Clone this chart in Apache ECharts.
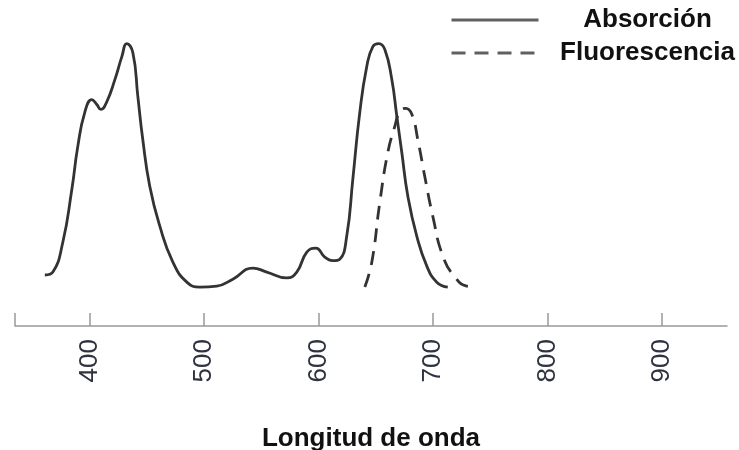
<!DOCTYPE html>
<html>
<head>
<meta charset="utf-8">
<script src="https://cdn.jsdelivr.net/npm/echarts@6/dist/echarts.min.js"></script>
<style>html,body{margin:0;padding:0;background:#fff;}#c{width:739px;height:450px;}</style>
</head>
<body>
<div id="c"></div>
<script>
// Wavelength (nm) and relative intensity
const absWl  = [360.7,367.7,376.4,384.3,389.5,395.6,401.7,406.1,409.6,414.9,421.9,428.0,432.3,437.6,442.0,446.3,452.4,461.2,472.6,484.8,496.2,511.0,525.0,542.5,554.7,572.2,580.9,589.7,597.5,605.4,612.4,618.5,624.6,629.9,636.0,642.1,647.4,652.6,657.9,664.0,668.4,672.7,678.0,685.8,694.6,703.3,712.9];
const absVal = [5.7,6.9,19.0,40.5,57.9,71.7,76.9,74.9,72.9,76.1,85.0,94.3,99.6,96.0,78.1,60.7,41.7,25.5,10.9,2.8,0.8,1.2,4.0,8.5,6.9,4.5,6.9,15.0,16.6,13.0,11.5,12.1,21.5,44.5,71.7,90.3,98.4,99.6,97.2,85.0,70.0,55.5,37.7,21.5,9.3,2.8,0.8];
const fluWl  = [640.4,646.5,653.5,660.5,666.6,671.0,676.2,681.5,686.7,692.8,699.8,708.6,719.1,729.5,738.3];
const fluVal = [0.8,10.9,35.2,55.5,66.0,72.1,73.3,70.9,60.7,45.7,29.6,13.4,4.9,1.2,0.8];
const tickLabels = [400,500,600,700,800,900];
const seriesNames = ['Absorción','Fluorescencia'];
const xName = 'Longitud de onda';

const zip = (a,b) => a.map((v,i)=>[v,b[i]]);
const chart = echarts.init(document.getElementById('c'), null, {renderer:'canvas'});
const FONT = '"Liberation Sans", Arial, sans-serif';
chart.setOption({
  animation:false,
  backgroundColor:'#fff',
  grid:{left:15, right:12, top:18, bottom:124, containLabel:false, outerBoundsMode:'none'},
  legend:{
    orient:'vertical', left:450, top:7, padding:0,
    itemWidth:87, itemHeight:14, itemGap:7,
    data:seriesNames,
    itemStyle:{opacity:0},
    lineStyle:{color:'#606060', width:3},
    formatter:'{a|{name}}',
    textStyle:{fontFamily:FONT, fontWeight:'bold', fontSize:26, color:'#111',
      rich:{a:{width:208, align:'center', fontFamily:FONT, fontWeight:'bold', fontSize:26, lineHeight:26, color:'#111'}}}
  },
  xAxis:{
    type:'value', min:334.6, max:957,
    name:xName, nameLocation:'middle', nameGap:100,
    nameTextStyle:{fontFamily:FONT, fontWeight:'bold', fontSize:26, color:'#111'},
    axisLine:{show:true, onZero:false, lineStyle:{color:'#999', width:1.5}},
    axisTick:{show:true, inside:true, length:13, customValues:[334.6].concat(tickLabels), lineStyle:{color:'#999', width:1.5}},
    axisLabel:{show:true, rotate:90, margin:13, fontFamily:FONT, fontSize:26, color:'#2f3340', customValues:tickLabels},
    splitLine:{show:false}
  },
  yAxis:{type:'value', min:-15, max:110, show:false},
  series:[
    {name:seriesNames[0], type:'line', smooth:0.5, symbol:'none', data:zip(absWl,absVal),
     lineStyle:{color:'#333', width:2.8}, itemStyle:{color:'#333'}},
    {name:seriesNames[1], type:'line', smooth:0.5, symbol:'none', data:zip(fluWl,fluVal),
     lineStyle:{color:'#333', width:2.8, type:[14,9]}, itemStyle:{color:'#333'}}
  ]
});
</script>
</body>
</html>
